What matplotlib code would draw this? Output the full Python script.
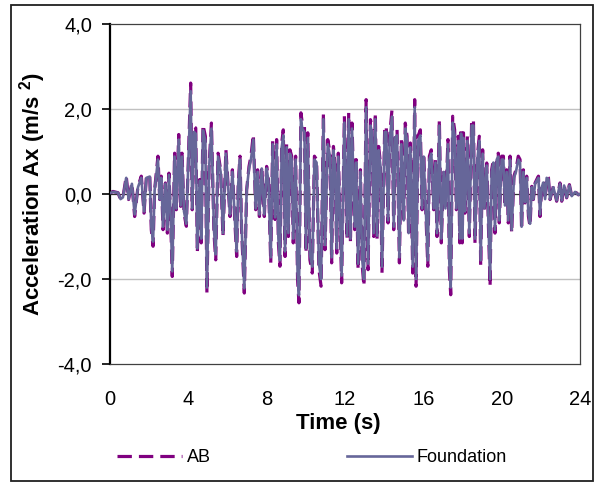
import matplotlib
matplotlib.use('Agg')
import matplotlib.pyplot as plt
from matplotlib.patches import Rectangle

plt.rcParams['font.family'] = ['Liberation Sans', 'DejaVu Sans']
plt.rcParams['mathtext.fontset'] = 'custom'
plt.rcParams['mathtext.rm'] = 'Liberation Sans'
plt.rcParams['mathtext.bf'] = 'Liberation Sans:bold'

# peaks and troughs (time in s, acceleration in m/s2)
time_s = [
    0.00, 0.15, 0.41, 0.54, 0.66, 0.83, 0.95, 1.12, 1.26, 1.43,
    1.60, 1.74, 1.86, 2.03, 2.11, 2.20, 2.28, 2.45, 2.54, 2.62,
    2.71, 2.83, 2.93, 3.01, 3.10, 3.18, 3.30, 3.39, 3.51, 3.61,
    3.68, 3.78, 3.90, 4.02, 4.12, 4.20, 4.29, 4.38, 4.46, 4.58,
    4.66, 4.75, 4.87, 4.95, 5.06, 5.18, 5.31, 5.40, 5.52, 5.65,
    5.77, 5.92, 6.13, 6.25, 6.38, 6.47, 6.55, 6.64, 6.72, 6.86,
    6.98, 7.10, 7.20, 7.32, 7.44, 7.54, 7.63, 7.75, 7.88, 8.00,
    8.09, 8.21, 8.31, 8.43, 8.51, 8.60, 8.68, 8.77, 8.85, 8.94,
    9.02, 9.11, 9.19, 9.28, 9.36, 9.48, 9.58, 9.65, 9.75, 9.82,
    9.93, 10.01, 10.10, 10.21, 10.33, 10.44, 10.55, 10.67, 10.78, 10.90,
    10.98, 11.12, 11.24, 11.32, 11.41, 11.49, 11.58, 11.66, 11.83, 11.97,
    12.11, 12.19, 12.28, 12.36, 12.50, 12.57, 12.67, 12.79, 12.87, 12.97,
    13.08, 13.18, 13.30, 13.38, 13.47, 13.55, 13.64, 13.72, 13.81, 13.89,
    14.03, 14.11, 14.20, 14.28, 14.40, 14.49, 14.57, 14.66, 14.78, 14.88,
    15.00, 15.08, 15.17, 15.25, 15.34, 15.46, 15.56, 15.63, 15.73, 15.85,
    15.94, 16.02, 16.11, 16.23, 16.31, 16.41, 16.53, 16.62, 16.70, 16.82,
    16.92, 17.04, 17.13, 17.26, 17.33, 17.40, 17.50, 17.60, 17.69, 17.79,
    17.86, 17.93, 17.99, 18.05, 18.13, 18.25, 18.35, 18.47, 18.56, 18.64,
    18.76, 18.86, 18.93, 19.03, 19.12, 19.24, 19.32, 19.41, 19.49, 19.58,
    19.66, 19.75, 19.83, 19.88, 20.00, 20.09, 20.17, 20.26, 20.34, 20.43,
    20.51, 20.63, 20.73, 20.85, 20.94, 21.02, 21.11, 21.20, 21.28, 21.37,
    21.45, 21.54, 21.62, 21.71, 21.79, 21.88, 21.96, 22.05, 22.13, 22.22,
    22.30, 22.39, 22.47, 22.64, 22.81, 22.98, 23.07, 23.19, 23.32, 23.46,
    23.58, 23.75, 23.92, 24.00,
]

ab_acc = [
    0.02, 0.06, 0.03, -0.13, -0.09, 0.42, -0.13, 0.26, -0.53, 0.18,
    0.42, -0.45, 0.42, 0.45, -0.84, -1.23, 0.10, 0.89, -0.13, 0.42,
    -0.84, 0.26, -0.92, 0.49, -0.60, -1.94, 0.96, -0.37, 1.40, -0.29,
    0.96, -0.45, -0.76, 1.12, 2.61, -0.37, 1.59, 1.55, -1.39, 0.34,
    -1.15, 1.63, 1.36, -2.33, 0.65, 1.67, -0.92, -1.55, 0.96, 0.57,
    -1.00, 1.04, -0.53, 0.57, -0.68, -1.47, 0.26, 0.89, -0.84, -2.33,
    0.10, 0.65, 0.89, 1.40, -0.37, 0.57, -0.53, 0.65, -0.53, 0.65,
    0.34, -1.62, 1.28, -0.60, 1.28, -1.15, -1.70, 1.20, 1.51, -1.47,
    1.20, -1.00, 1.04, 0.89, -1.15, 0.89, -2.02, -2.56, 1.91, 1.67,
    1.59, -1.39, 1.44, -1.55, -1.86, 0.89, 0.81, -1.78, -2.17, 1.91,
    -1.31, 1.28, 0.96, -1.62, 1.12, 0.73, -1.39, 0.96, -2.09, 1.83,
    -1.07, 1.91, -1.15, 1.67, -0.84, 0.81, -1.78, 0.57, -1.62, -2.17,
    2.22, -1.78, 1.75, 1.59, -1.00, 1.91, -1.07, 1.12, 0.73, -1.86,
    1.59, 1.59, -0.68, 1.36, 1.98, -0.84, 1.44, 1.51, -1.62, 1.28,
    -0.68, 1.67, 1.36, -1.00, 1.20, -1.86, 2.22, -2.17, 1.36, 1.51,
    -0.37, 0.96, -0.21, -1.70, 0.89, 1.04, -0.37, 0.81, -1.00, 1.75,
    -1.15, 0.57, -0.37, 1.28, -1.78, -2.37, 1.83, 1.51, -0.37, 1.36,
    -1.15, 1.55, -1.15, 1.44, -0.45, 1.36, -1.00, 1.75, 1.75, -1.15,
    0.89, 1.36, -1.70, 1.04, -0.37, 0.73, -0.68, -2.17, 0.57, 0.81,
    -0.92, 0.89, 0.96, -0.68, 0.89, 0.89, -0.29, 0.57, -0.68, 0.89,
    -0.92, 0.42, 0.57, 0.89, 0.81, -0.84, 0.57, -0.21, 0.42, -0.53,
    -0.76, 0.18, -0.13, 0.26, 0.34, 0.42, -0.53, 0.18, 0.30, -0.13,
    0.42, 0.38, -0.13, 0.18, -0.17, 0.26, -0.17, 0.22, -0.09, 0.22,
    -0.05, 0.06, -0.02, 0.00,
]

foundation_acc = [
    0.02, 0.05, 0.03, -0.12, -0.08, 0.38, -0.12, 0.24, -0.48, 0.16,
    0.38, -0.41, 0.38, 0.41, -0.77, -1.12, 0.09, 0.81, -0.12, 0.38,
    -0.77, 0.24, -0.84, 0.45, -0.55, -1.82, 0.88, -0.34, 1.28, -0.27,
    0.88, -0.41, -0.70, 1.03, 2.42, -0.34, 1.46, 1.42, -1.28, 0.31,
    -1.05, 1.50, 1.25, -2.20, 0.60, 1.54, -0.84, -1.42, 0.88, 0.52,
    -0.92, 0.95, -0.48, 0.52, -0.62, -1.35, 0.24, 0.81, -0.77, -2.22,
    0.09, 0.60, 0.81, 1.28, -0.34, 0.52, -0.48, 0.60, -0.48, 0.60,
    0.31, -1.49, 1.17, -0.55, 1.17, -1.05, -1.56, 1.10, 1.38, -1.35,
    1.10, -0.92, 0.95, 0.81, -1.05, 0.81, -1.86, -2.38, 1.76, 1.54,
    1.46, -1.28, 1.32, -1.42, -1.71, 0.81, 0.74, -1.64, -2.00, 1.76,
    -1.20, 1.17, 0.88, -1.49, 1.03, 0.67, -1.28, 0.88, -1.92, 1.68,
    -0.98, 1.76, -1.05, 1.54, -0.77, 0.74, -1.64, 0.52, -1.49, -2.00,
    2.04, -1.64, 1.61, 1.46, -0.92, 1.76, -0.98, 1.03, 0.67, -1.71,
    1.46, 1.46, -0.62, 1.25, 1.82, -0.77, 1.32, 1.38, -1.49, 1.17,
    -0.62, 1.54, 1.25, -0.92, 1.10, -1.71, 2.04, -2.00, 1.25, 1.38,
    -0.34, 0.88, -0.19, -1.56, 0.81, 0.95, -0.34, 0.74, -0.92, 1.61,
    -1.05, 0.52, -0.34, 1.17, -1.64, -2.20, 1.68, 1.38, -0.34, 1.25,
    -1.05, 1.42, -1.05, 1.32, -0.41, 1.25, -0.92, 1.61, 1.61, -1.05,
    0.81, 1.25, -1.56, 0.95, -0.34, 0.67, -0.62, -2.00, 0.52, 0.74,
    -0.84, 0.81, 0.88, -0.62, 0.81, 0.81, -0.27, 0.52, -0.62, 0.81,
    -0.84, 0.38, 0.52, 0.81, 0.74, -0.77, 0.52, -0.19, 0.38, -0.48,
    -0.70, 0.16, -0.12, 0.24, 0.31, 0.38, -0.48, 0.16, 0.27, -0.12,
    0.38, 0.35, -0.12, 0.16, -0.15, 0.24, -0.15, 0.20, -0.08, 0.20,
    -0.05, 0.05, -0.02, 0.00,
]

x_ticks = [0, 4, 8, 12, 16, 20, 24]
y_ticks = [-4, -2, 0, 2, 4]
y_tick_labels = ['-4,0', '-2,0', '0,0', '2,0', '4,0']

fig = plt.figure(figsize=(6.0, 4.82), dpi=100)
ax = fig.add_axes([0.1833, 0.2448, 0.7833, 0.7054])

# grid lines and zero axis
for yv in (-2, 2):
    ax.axhline(yv, color='#c0c0c0', lw=1.0, zorder=1)
ax.axhline(0, color='#303030', lw=0.9, zorder=1)

ax.plot(time_s, ab_acc, color='#800080', lw=2.3, dashes=(4.5, 2.2),
        label='AB', zorder=2)
ax.plot(time_s, foundation_acc, color='#666699', lw=1.9,
        label='Foundation', zorder=3)

ax.set_xlim(0, 24)
ax.set_ylim(-4, 4)
ax.set_xticks(x_ticks)
ax.set_yticks(y_ticks)
ax.set_yticklabels(y_tick_labels)
ax.tick_params(axis='x', length=0, pad=19, labelsize=14.5)
ax.tick_params(axis='y', length=6, width=1.2, direction='out', pad=7,
               labelsize=14.5)

for side in ('top', 'right', 'bottom'):
    ax.spines[side].set_color('#404040')
    ax.spines[side].set_linewidth(0.9)
ax.spines['left'].set_color('black')
ax.spines['left'].set_linewidth(1.6)

ax.set_xlabel('Time (s)', fontsize=16, fontweight='bold', va='top')
ax.xaxis.set_label_coords(0.485, -0.145)
ax.set_ylabel(r'Acceleration Ax (m/s $^{\mathbf{2}}$)', fontsize=16,
              fontweight='bold')
ax.yaxis.set_label_coords(-0.132, 0.5)

fig.legend(loc='center', bbox_to_anchor=(0.52, 0.05), ncol=2,
           frameon=False, fontsize=13, handlelength=3.6,
           columnspacing=7.5, handletextpad=0.28)

# outer chart border
fig.patches.append(Rectangle((11 / 600, 0.002), 582 / 600, 0.9876,
                             transform=fig.transFigure, fill=False,
                             edgecolor='#202020', lw=1.3))

fig.savefig('out.png', dpi=100)
